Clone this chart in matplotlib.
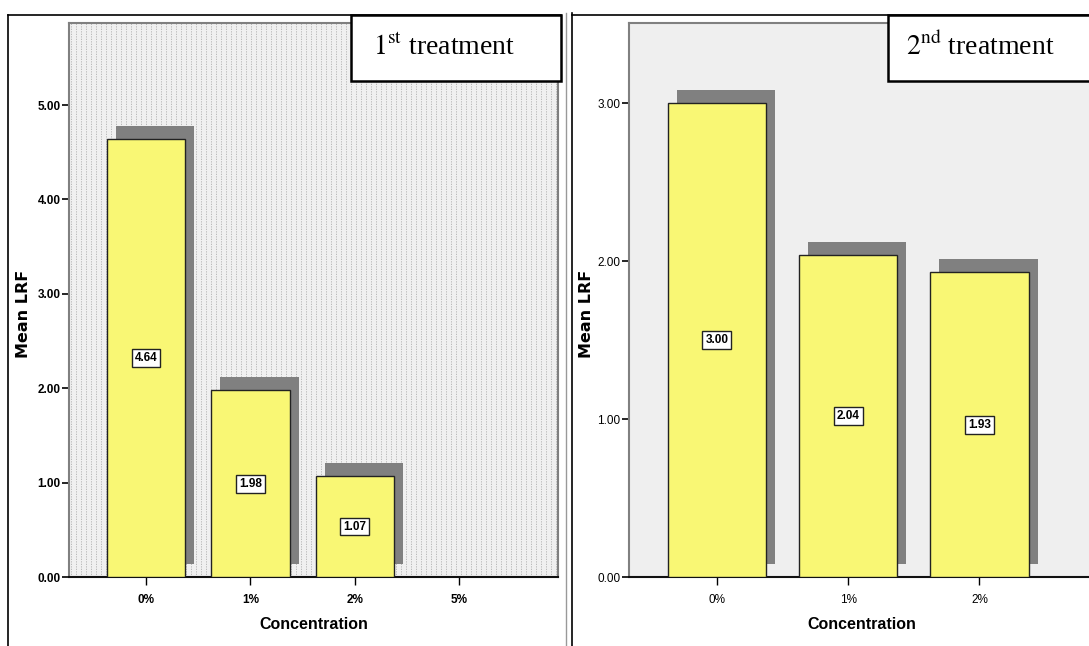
import numpy as np
import matplotlib
matplotlib.use("Agg")
import matplotlib.pyplot as plt
from matplotlib.patches import Rectangle
from matplotlib.lines import Line2D
from matplotlib.transforms import offset_copy

# data
cats1 = ['0%', '1%', '2%', '5%']
vals1 = [4.64, 1.98, 1.07]
cats2 = ['0%', '1%', '2%']
vals2 = [3.00, 2.04, 1.93]
yticks1 = [0, 1, 2, 3, 4, 5]
yticks2 = [0, 1, 2, 3]

plt.rcParams['mathtext.fontset'] = 'stix'
narrow = ['Liberation Sans Narrow', 'Liberation Sans', 'DejaVu Sans']
W, H = 1089, 646
fig = plt.figure(figsize=(W / 100, H / 100), dpi=100)


def fx(px):
    return px / W


def fy(py):
    return 1 - py / H


def draw_panel(ax, cats, vals, yticks, ylim, xlim, bold_ticks, ylab_x):
    x = np.arange(len(cats))
    shadow = offset_copy(ax.transData, fig=fig, x=9, y=13, units='dots')
    for xi, v in zip(x, vals):
        ax.bar(xi, v, width=0.75, color='#808080', transform=shadow, zorder=2)
    ax.bar(x[:len(vals)], vals, width=0.75, color='#f9f774',
           edgecolor='#222222', linewidth=1.0, zorder=3)
    for xi, v in zip(x, vals):
        ax.text(xi, v / 2, f'{v:.2f}', ha='center', va='center', fontsize=8.5,
                fontweight='bold', family=narrow, zorder=4,
                bbox=dict(boxstyle='square,pad=0.25', fc='white',
                          ec='#222222', lw=1.0))
    ax.set_xlim(*xlim)
    ax.set_ylim(*ylim)
    ax.set_xticks(x)
    ax.set_xticklabels(cats)
    ax.set_yticks(yticks)
    ax.set_yticklabels([f'{t:.2f}' for t in yticks])
    fw = 'bold' if bold_ticks else 'normal'
    for lab in ax.get_xticklabels() + ax.get_yticklabels():
        lab.set_family(narrow)
        lab.set_fontweight(fw)
        lab.set_fontsize(8.5)
    ax.tick_params(axis='y', direction='out', length=5, width=1.2, pad=1)
    ax.tick_params(axis='x', direction='out', length=6, width=1.0, pad=6)
    ax.set_xlabel('Concentration', fontsize=11.5, fontweight='bold',
                  family=narrow, labelpad=8)
    ax.set_ylabel('Mean LRF', fontsize=11.5, fontweight='bold')
    ax.yaxis.set_label_coords(ylab_x, 0.475)
    for s in ['left', 'top', 'right']:
        ax.spines[s].set_color('#808080')
        ax.spines[s].set_linewidth(1.5)
    ax.spines['bottom'].set_color('#111111')
    ax.spines['bottom'].set_linewidth(1.5)


# left panel (1st treatment)
ax1 = fig.add_axes([fx(69), fy(577), fx(558 - 69), fy(23) - fy(577)])
ax1.set_facecolor('#f0f0f0')
ax1.vlines(np.arange(0.005, 1, 5 / 489), 0, 1, transform=ax1.transAxes,
           colors='#b0b0b0', linewidth=0.6, linestyles=(0, (1.5, 1.5)),
           zorder=1)
draw_panel(ax1, cats1, vals1, yticks1, (0, 5.87), (-0.74, 3.95), True,
           (31 - 69) / 489)

# right panel (2nd treatment)
ax2 = fig.add_axes([fx(629), fy(577), fx(1095 - 629), fy(23) - fy(577)])
ax2.set_facecolor('#efefef')
draw_panel(ax2, cats2, vals2, yticks2, (0, 3.51), (-0.67, 2.88), False,
           (594 - 629) / 466)

# frames around the two panels
lines = [
    ([8, 8], [15, 646], 'black', 1.2),
    ([8, 561], [15, 15], 'black', 1.2),
    ([566, 566], [13, 646], '#999999', 1.0),
    ([572, 572], [13, 646], 'black', 1.2),
    ([572, 1089], [15, 15], 'black', 1.2),
]
for xs, ys, c, lw in lines:
    fig.add_artist(Line2D([fx(v) for v in xs], [fy(v) for v in ys],
                          color=c, linewidth=lw))

# treatment label boxes
for (x0, x1, tx, label) in [(351, 561, 373, r'$\mathrm{1^{st}}$ treatment'),
                            (888, 1095, 906, r'$\mathrm{2^{nd}}$ treatment')]:
    fig.add_artist(Rectangle((fx(x0), fy(81)), fx(x1 - x0), fy(15) - fy(81),
                             transform=fig.transFigure, facecolor='white',
                             edgecolor='black', linewidth=1.8, zorder=5))
    fig.text(fx(tx), fy(55), label, fontsize=20, family='Liberation Serif',
             ha='left', va='baseline', zorder=6)

fig.savefig('out.png', dpi=100)
